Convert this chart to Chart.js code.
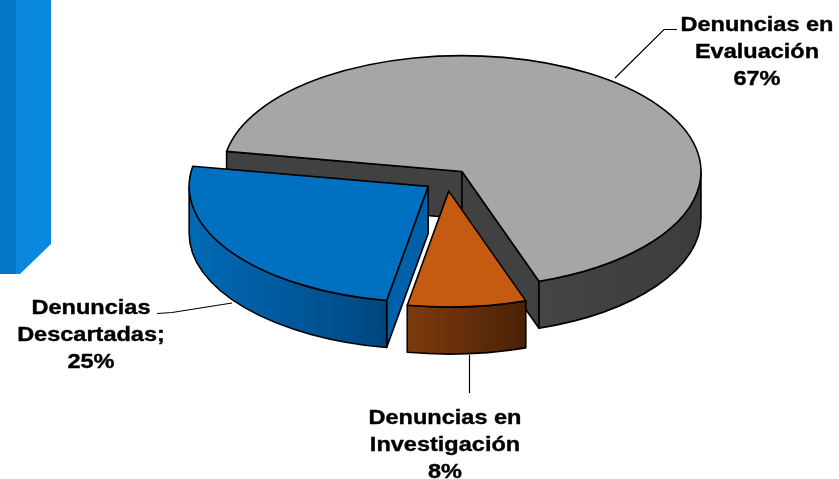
<!DOCTYPE html>
<html>
<head>
<meta charset="utf-8">
<script src="https://cdn.jsdelivr.net/npm/chart.js@4/dist/chart.umd.min.js"></script>
<style>
  html, body { margin: 0; padding: 0; background: #fff; }
  #wrap { position: relative; width: 839px; height: 479px; }
  /* barra decorativa azul a la izquierda */
  .bar-dark { position: absolute; left: 0; top: 0; width: 20px; height: 274px; background: #0677c6; }
  .bar-light { position: absolute; left: 16px; top: 0; width: 35px; height: 274px; background: #0a88e0;
    clip-path: polygon(0 0, 100% 0, 100% 244px, 4px 274px, 0 274px); }
</style>
</head>
<body>
<div id="wrap">
  <div class="bar-dark"></div>
  <div class="bar-light"></div>
  <canvas id="pie"></canvas>
</div>
<script>
/* ====== datos ====== */
const categories = ["Denuncias en Evaluación", "Denuncias en Investigación", "Denuncias Descartadas"];
const shares = [67, 8, 25];
const labelLines = [
  ["Denuncias en", "Evaluación"],
  ["Denuncias en", "Investigación"],
  ["Denuncias", "Descartadas;"],
];

/* ====== estilo ====== */
const TOP = ["#a6a6a6", "#c55a11", "#0070c0"];
const WALL = [["#454545", "#3c3c3c"], ["#7d3b0d", "#4a2106"], ["#006ab7", "#00477f"]];
const SIDE = ["#414141", "#6b300a", "#0060a9"];
const TILT = 0.485, DEPTH = 47, EXPLODE = 23;
const DRAW_ORDER = [0, 2, 1]; // de atrás hacia delante

// posición de etiquetas (centro x, primera línea base y) y líneas guía
const LABEL_POS = [[757, 31], [445, 424], [91, 314]];
const LEADERS = [
  [[615, 78], [664, 29.5], [677, 29.5]],
  [[469.5, 355], [469.5, 393]],
  [[157, 313.5], [172, 312.5], [232, 303]],
];

/* ====== pastel 3D ====== */
function drawSlice(ctx, arc, i) {
  const { x, y, startAngle: a0, endAngle: a1, outerRadius: r } =
    arc.getProps(["x", "y", "startAngle", "endAngle", "outerRadius"]);
  const mid = (a0 + a1) / 2;
  const ox = x + Math.cos(mid) * EXPLODE;
  const oy = y + Math.sin(mid) * EXPLODE * TILT;
  const ry = r * TILT;
  const P = (a) => [ox + Math.cos(a) * r, oy + Math.sin(a) * ry];

  ctx.save();
  ctx.lineWidth = 1.6;
  ctx.strokeStyle = "#000";
  ctx.lineJoin = "round";

  // caras radiales visibles
  const face = (a) => {
    const [px, py] = P(a);
    ctx.beginPath();
    ctx.moveTo(ox, oy);
    ctx.lineTo(px, py);
    ctx.lineTo(px, py + DEPTH);
    ctx.lineTo(ox, oy + DEPTH);
    ctx.closePath();
    ctx.fillStyle = SIDE[i];
    ctx.fill();
    ctx.stroke();
  };
  if (Math.cos(a0) < 0) face(a0);
  if (Math.cos(a1) > 0) face(a1);

  // pared exterior (parte frontal)
  for (let k = -1; k <= 2; k++) {
    const lo = Math.max(a0, 2 * Math.PI * k);
    const hi = Math.min(a1, 2 * Math.PI * k + Math.PI);
    if (hi <= lo) continue;
    const xs = [lo, hi].map((a) => P(a)[0]);
    let xl = Math.min(...xs), xr = Math.max(...xs);
    if (hi >= 2 * Math.PI * k + Math.PI - 1e-6) xl = ox - r;
    const g = ctx.createLinearGradient(xl, 0, xr, 0);
    g.addColorStop(0, WALL[i][0]);
    g.addColorStop(1, WALL[i][1]);
    ctx.beginPath();
    ctx.ellipse(ox, oy, r, ry, 0, lo, hi);
    ctx.ellipse(ox, oy + DEPTH, r, ry, 0, hi, lo, true);
    ctx.closePath();
    ctx.fillStyle = g;
    ctx.fill();
    ctx.stroke();
  }

  // cara superior: la dibuja el propio arco de Chart.js, aplastado
  ctx.save();
  ctx.translate(ox, oy);
  ctx.scale(1, TILT);
  ctx.translate(-x, -y);
  arc.draw(ctx);
  ctx.restore();

  const [sx, sy] = P(a0);
  ctx.beginPath();
  ctx.moveTo(ox, oy);
  ctx.lineTo(sx, sy);
  ctx.ellipse(ox, oy, r, ry, 0, a0, a1);
  ctx.closePath();
  ctx.stroke();
  ctx.restore();
}

const pie3d = {
  id: "pie3d",
  beforeDatasetsDraw(chart) {
    const arcs = chart.getDatasetMeta(0).data;
    DRAW_ORDER.forEach((i) => drawSlice(chart.ctx, arcs[i], i));
    return false;
  },
};

/* ====== etiquetas ====== */
const callouts = {
  id: "callouts",
  afterDraw(chart) {
    const ctx = chart.ctx;
    ctx.save();
    ctx.strokeStyle = "#000";
    ctx.lineWidth = 1.2;
    LEADERS.forEach((pts) => {
      ctx.beginPath();
      pts.forEach(([px, py], j) => (j ? ctx.lineTo(px, py) : ctx.moveTo(px, py)));
      ctx.stroke();
    });
    ctx.fillStyle = "#000";
    ctx.strokeStyle = "#000";
    ctx.lineWidth = 0.4;
    ctx.font = "bold 21px 'Liberation Sans', Arial, sans-serif";
    ctx.textAlign = "center";
    ctx.textBaseline = "alphabetic";
    shares.forEach((v, i) => {
      const lines = [...labelLines[i], v + "%"];
      const [cx, by] = LABEL_POS[i];
      lines.forEach((t, j) => {
        ctx.save();
        ctx.translate(cx, by + j * 27);
        ctx.scale(1.12, 1);
        ctx.fillText(t, 0, 0);
        ctx.strokeText(t, 0, 0);
        ctx.restore();
      });
    });
    ctx.restore();
  },
};

/* ====== gráfico ====== */
new Chart(document.getElementById("pie").getContext("2d"), {
  type: "pie",
  data: {
    labels: categories,
    datasets: [{ data: shares, backgroundColor: TOP, borderWidth: 0, radius: 239 }],
  },
  options: {
    responsive: true,
    maintainAspectRatio: false,
    animation: false,
    events: [],
    rotation: 280,
    layout: { padding: { left: 55, right: 0, top: 0, bottom: 119 } },
    plugins: { legend: { display: false }, tooltip: { enabled: false } },
  },
  plugins: [pie3d, callouts],
});
</script>
</body>
</html>
